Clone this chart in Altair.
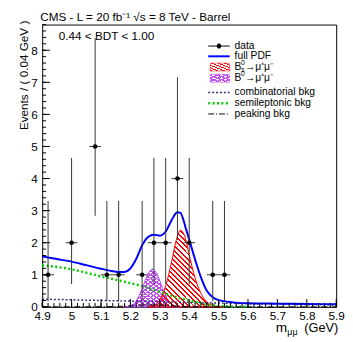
import altair as alt
import pandas as pd

FONT = "Liberation Sans"

# ---- data points (bin width 0.04 GeV) ----
m_data = [4.92, 5.00, 5.08, 5.12, 5.16, 5.24, 5.28, 5.32, 5.36, 5.40, 5.48, 5.52]
n_data = [1, 2, 5, 1, 1, 1, 2, 2, 4, 2, 1, 1]
err_low = [0.17, 0.71, 2.84, 0.17, 0.17, 0.17, 0.71, 0.71, 2.09, 0.71, 0.17, 0.17]
err_high = [3.30, 4.64, 8.38, 3.30, 3.30, 3.30, 4.64, 4.64, 7.16, 4.64, 3.30, 3.30]
half_bin = 0.02

# ---- full PDF ----
pdf_m = [4.90, 4.95, 5.00, 5.05, 5.10, 5.13, 5.16, 5.18, 5.20, 5.22, 5.24, 5.26, 5.28,
         5.30, 5.32, 5.34, 5.36, 5.37, 5.39, 5.42, 5.44, 5.46, 5.48, 5.50, 5.55, 5.60,
         5.70, 5.80, 5.90]
pdf_v = [1.58, 1.49, 1.41, 1.30, 1.19, 1.13, 1.09, 1.09, 1.20, 1.50, 1.92, 2.18, 2.25,
         2.22, 2.35, 2.70, 2.95, 2.93, 2.40, 1.48, 0.92, 0.50, 0.30, 0.21, 0.14, 0.11,
         0.10, 0.09, 0.08]

# ---- Bs -> mu mu ----
bs_m = [5.26, 5.28, 5.30, 5.32, 5.34, 5.355, 5.37, 5.385, 5.40, 5.42, 5.44, 5.46, 5.48, 5.50, 5.52]
bs_v = [0.0, 0.04, 0.22, 0.65, 1.40, 2.05, 2.39, 2.20, 1.62, 0.90, 0.42, 0.16, 0.05, 0.01, 0.0]

# ---- Bd -> mu mu ----
bd_m = [5.18, 5.20, 5.22, 5.24, 5.26, 5.275, 5.29, 5.31, 5.33, 5.35, 5.37]
bd_v = [0.0, 0.04, 0.19, 0.57, 1.03, 1.18, 1.03, 0.57, 0.19, 0.04, 0.0]

# ---- combinatorial bkg ----
comb_m = [4.9, 5.0, 5.1, 5.2, 5.3, 5.4, 5.5, 5.6, 5.7, 5.8, 5.9]
comb_v = [0.24, 0.22, 0.20, 0.18, 0.16, 0.14, 0.12, 0.10, 0.09, 0.07, 0.06]

# ---- semileptonic bkg ----
semi_m = [4.90, 5.00, 5.10, 5.20, 5.25, 5.30, 5.35, 5.40, 5.45, 5.50, 5.55, 5.60]
semi_v = [1.30, 1.17, 0.95, 0.74, 0.62, 0.47, 0.32, 0.20, 0.09, 0.03, 0.01, 0.0]

# ---- peaking bkg ----
peak_m = [4.90, 5.10, 5.20, 5.25, 5.30, 5.35, 5.40, 5.50, 5.90]
peak_v = [0.0, 0.005, 0.03, 0.06, 0.06, 0.03, 0.01, 0.0, 0.0]

# ---- axis ticks ----
x_major = [4.9, 5.0, 5.1, 5.2, 5.3, 5.4, 5.5, 5.6, 5.7, 5.8, 5.9]
x_minor = [round(4.9 + 0.02 * i, 2) for i in range(51)]
y_major = [0, 1, 2, 3, 4, 5, 6, 7, 8]
y_minor = [round(0.2 * i, 1) for i in range(45)]

W, H = 301, 289
xs = alt.Scale(domain=[4.9, 5.9], nice=False, zero=False)
ys = alt.Scale(domain=[0, 8.8], nice=False, zero=False)
xaxis = alt.Axis(values=x_major, format=".1~f", ticks=False, tickSize=0, domain=False,
                 grid=False, labelFont=FONT, labelFontSize=12, labelPadding=4,
                 labelColor="black", title=None, labelFlush=False, labelOverlap=False)
yaxis = alt.Axis(values=y_major, format="d", ticks=False, tickSize=0, domain=False,
                 grid=False, labelFont=FONT, labelFontSize=12, labelPadding=5,
                 labelColor="black", title=None, labelOverlap=False)


def X(f):
    return alt.X(f, type="quantitative", scale=xs, axis=xaxis)


def Y(f):
    return alt.Y(f, type="quantitative", scale=ys, axis=yaxis)


CLEAR = "rgba(255,255,255,0)"


def hatch(color, n, frac, x1, y1, x2, y2):
    stops = []
    for i in range(n):
        a = i / n
        b = (i + frac) / n
        c = (i + 1) / n
        stops += [alt.GradientStop(offset=a, color=color),
                  alt.GradientStop(offset=b, color=color),
                  alt.GradientStop(offset=b, color=CLEAR),
                  alt.GradientStop(offset=c, color=CLEAR)]
    return alt.Gradient(gradient="linear", stops=stops, x1=x1, y1=y1, x2=x2, y2=y2)


RED = "#ff0000"
MAG = "#c04cf0"

df_data = pd.DataFrame({"m": m_data, "n": n_data, "lo": err_low, "hi": err_high})
df_data["ml"] = df_data["m"] - half_bin
df_data["mh"] = df_data["m"] + half_bin

df_pdf = pd.DataFrame({"m": pdf_m, "v": pdf_v})
df_bs = pd.DataFrame({"m": bs_m, "v": bs_v})
df_bd = pd.DataFrame({"m": bd_m, "v": bd_v})
df_comb = pd.DataFrame({"m": comb_m, "v": comb_v})
df_semi = pd.DataFrame({"m": semi_m, "v": semi_v})
df_peak = pd.DataFrame({"m": peak_m, "v": peak_v})

layers = []

# Bd cross-hatched area (two diagonal directions)
layers.append(alt.Chart(df_bd).mark_area(interpolate="monotone",
              fill=hatch(MAG, 20, 0.38, 0, 1, 1, 0)).encode(x=X("m"), y=Y("v")))
layers.append(alt.Chart(df_bd).mark_area(interpolate="monotone",
              fill=hatch(MAG, 20, 0.38, 0, 0, 1, 1), stroke=MAG, strokeWidth=1).encode(x=X("m"), y=Y("v")))
# Bs hatched area
layers.append(alt.Chart(df_bs).mark_area(interpolate="monotone",
              fill=hatch(RED, 30, 0.38, 0, 1, 1, 0), stroke=RED, strokeWidth=1).encode(x=X("m"), y=Y("v")))

# background lines
layers.append(alt.Chart(df_comb).mark_line(interpolate="monotone", color="#2f2f80",
              strokeWidth=1.5, strokeDash=[2, 2]).encode(x=X("m"), y=Y("v")))
layers.append(alt.Chart(df_semi).mark_line(interpolate="monotone", color="#00cc00",
              strokeWidth=2.5, strokeDash=[2, 2.5]).encode(x=X("m"), y=Y("v")))
layers.append(alt.Chart(df_peak).mark_line(interpolate="monotone", color="black",
              strokeWidth=1, strokeDash=[6, 2, 1, 2]).encode(x=X("m"), y=Y("v")))
# full PDF
layers.append(alt.Chart(df_pdf).mark_line(interpolate="monotone", color="#0000ff",
              strokeWidth=2).encode(x=X("m"), y=Y("v")))

# data error bars and points
layers.append(alt.Chart(df_data).mark_rule(color="#333333", strokeWidth=1).encode(
    x=X("m"), y=Y("lo"), y2="hi"))
layers.append(alt.Chart(df_data).mark_rule(color="#333333", strokeWidth=1).encode(
    x=X("ml"), x2="mh", y=Y("n")))
layers.append(alt.Chart(df_data).mark_point(filled=True, shape="circle", size=22,
              color="black", opacity=1).encode(x=X("m"), y=Y("n")))

# axis ticks (inside the frame)
layers.append(alt.Chart(pd.DataFrame({"t": x_minor})).mark_rule(color="black", strokeWidth=1).encode(
    x=X("t"), y=alt.value(H), y2=alt.value(H - 4)))
layers.append(alt.Chart(pd.DataFrame({"t": x_major})).mark_rule(color="black", strokeWidth=1).encode(
    x=X("t"), y=alt.value(H), y2=alt.value(H - 8)))
layers.append(alt.Chart(pd.DataFrame({"t": y_minor})).mark_rule(color="black", strokeWidth=1).encode(
    y=Y("t"), x=alt.value(0), x2=alt.value(4)))
layers.append(alt.Chart(pd.DataFrame({"t": y_major})).mark_rule(color="black", strokeWidth=1).encode(
    y=Y("t"), x=alt.value(0), x2=alt.value(8)))

one = pd.DataFrame({"a": [0]})


def txt(s, x, y, size=10.5, align="left", baseline="middle", angle=0):
    return alt.Chart(one).mark_text(text=s, font=FONT, fontSize=size, align=align,
                                    baseline=baseline, angle=angle, color="black").encode(
        x=alt.value(x), y=alt.value(y))


def hline(x1, x2, y, color, width, dash=None):
    kw = dict(color=color, strokeWidth=width)
    if dash:
        kw["strokeDash"] = dash
    return alt.Chart(one).mark_rule(**kw).encode(x=alt.value(x1), x2=alt.value(x2), y=alt.value(y))


# titles
layers.append(txt("CMS - L = 20 fb⁻¹ √s = 8 TeV - Barrel", -2, -8, size=12))
layers.append(txt("0.44 < BDT < 1.00", 17, 12, size=12))
layers.append(txt("Events / ( 0.04 GeV )", -19, -4, size=12, align="right", angle=270))
layers.append(txt("m", 239, 315, size=14, baseline="alphabetic"))
layers.append(txt("μμ", 251, 318, size=9, baseline="alphabetic"))
layers.append(txt("(GeV)", 303, 315, size=13, align="right", baseline="alphabetic"))

# legend
LX1, LX2, LT = 170, 192, 197
rows = {"data": 22, "pdf": 32.5, "bs": 43.5, "bd": 55, "comb": 69.5, "semi": 80.5, "peak": 91.5}
layers.append(hline(LX1, LX2, rows["data"], "black", 1))
layers.append(alt.Chart(one).mark_rule(color="black", strokeWidth=1).encode(
    x=alt.value(181), y=alt.value(rows["data"] - 3), y2=alt.value(rows["data"] + 3)))
layers.append(alt.Chart(one).mark_point(filled=True, shape="circle", size=22, color="black",
                                        opacity=1).encode(x=alt.value(181), y=alt.value(rows["data"])))
layers.append(txt("data", LT, rows["data"]))
layers.append(hline(LX1, LX2, rows["pdf"], "#0000ff", 2))
layers.append(txt("full PDF", LT, rows["pdf"]))
layers.append(alt.Chart(one).mark_rect(fill=hatch(RED, 6, 0.4, 0, 1, 1, 0), stroke=RED,
                                       strokeWidth=0.5).encode(
    x=alt.value(172), x2=alt.value(192), y=alt.value(rows["bs"] - 4), y2=alt.value(rows["bs"] + 4)))
layers.append(alt.Chart(one).mark_rect(fill=hatch(MAG, 5, 0.4, 0, 1, 1, 0)).encode(
    x=alt.value(172), x2=alt.value(192), y=alt.value(rows["bd"] - 4), y2=alt.value(rows["bd"] + 4)))
layers.append(alt.Chart(one).mark_rect(fill=hatch(MAG, 5, 0.4, 0, 0, 1, 1), stroke=MAG,
                                       strokeWidth=0.5).encode(
    x=alt.value(172), x2=alt.value(192), y=alt.value(rows["bd"] - 4), y2=alt.value(rows["bd"] + 4)))
for key in ("bs", "bd"):
    y0 = rows[key]
    layers.append(txt("B", LT, y0))
    layers.append(txt("0", 203.5, y0 - 4, size=7))
    if key == "bs":
        layers.append(txt("s", 203.5, y0 + 3.5, size=7))
    layers.append(txt("→μ⁺μ⁻", 207.5, y0))
layers.append(hline(LX1, LX2, rows["comb"], "#2f2f80", 1.5, [2, 2]))
layers.append(txt("combinatorial bkg", LT, rows["comb"]))
layers.append(hline(LX1, LX2, rows["semi"], "#00cc00", 2.5, [2, 2.5]))
layers.append(txt("semileptonic bkg", LT, rows["semi"]))
layers.append(hline(LX1, LX2, rows["peak"], "black", 1, [6, 2, 1, 2]))
layers.append(txt("peaking bkg", LT, rows["peak"]))

chart = alt.layer(*layers).properties(
    width=W, height=H,
    autosize=alt.AutoSizeParams(type="none"),
    padding={"left": 35, "top": 13, "right": 9, "bottom": 32},
    background="white",
).configure_view(stroke="black", strokeWidth=1)

chart.save("out.html", embed_options={"renderer": "svg", "actions": False})
